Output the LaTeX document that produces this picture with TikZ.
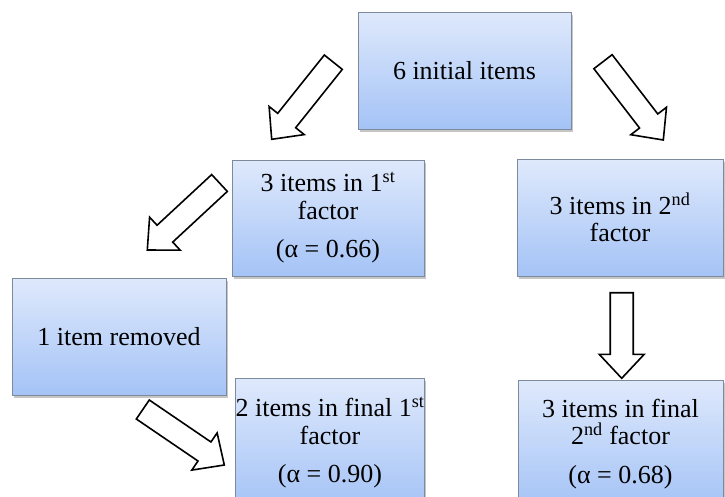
\documentclass[tikz,border=0pt]{standalone}
\usepackage{fontspec}
\setmainfont{LiberationSerif}[Extension=.ttf, UprightFont=*-Regular, BoldFont=*-Bold]
\usetikzlibrary{calc,shadows}

\definecolor{boxtop}{HTML}{DFE9FC}
\definecolor{boxbottom}{HTML}{A4C3F6}
\definecolor{boxedge}{HTML}{7D8A9C}

\tikzset{
  stage/.style={
    draw=boxedge, line width=0.9pt,
    top color=boxtop, bottom color=boxbottom,
    drop shadow={opacity=0.45, shadow xshift=2pt, shadow yshift=-3pt},
    align=center, inner sep=0pt,
    font=\fontsize{26}{27.5}\selectfont
  },
  barrow/.style={draw=black, fill=white, line width=1.6pt, line join=miter}
}

% hollow block arrow from coordinate #1 (tail) to coordinate #2 (tip)
\newcommand\BlockArr[2]{%
  \coordinate (#1h) at ($(#2)!24pt!(#1)$);
  \draw[barrow]
    ($(#1)!11.5pt!90:(#2)$) --
    ($(#1h)!11.5pt!90:(#2)$) --
    ($(#1h)!22.5pt!90:(#2)$) --
    (#2) --
    ($(#1h)!22.5pt!-90:(#2)$) --
    ($(#1h)!11.5pt!-90:(#2)$) --
    ($(#1)!11.5pt!-90:(#2)$) -- cycle;
}

\begin{document}
\begin{tikzpicture}[x=1pt,y=-1pt]
  \useasboundingbox (0,0) rectangle (725,496);

  % stages
  \node[stage, minimum width=213pt, minimum height=117pt] (init) at (464.5,70.5) {6 initial items};
  \node[stage, minimum width=192pt, minimum height=116pt] (f1) at (328,218)
    {3 items in 1\textsuperscript{st}\\factor\\[11pt](α = 0.66)};
  \node[stage, minimum width=206pt, minimum height=117pt] (f2) at (620,217.5)
    {3 items in 2\textsuperscript{nd}\\factor};
  \node[stage, minimum width=214pt, minimum height=117pt] (rem) at (119,336.5) {1 item removed};
  \node[stage, minimum width=186pt, minimum height=130pt] (fin1) at (330,443)
    {2 items in final 1\textsuperscript{st}\\factor\\[11pt](α = 0.90)};
  \node[stage, minimum width=205pt, minimum height=128pt] (fin2) at (620.5,444)
    {3 items in final\\2\textsuperscript{nd} factor\\[11pt](α = 0.68)};

  % arrow ends
  \coordinate (a1) at (333.3,62.2);  \coordinate (b1) at (271.7,139.3);
  \coordinate (a2) at (603,61.7);    \coordinate (b2) at (663.3,140);
  \coordinate (a3) at (219.5,183);   \coordinate (b3) at (147.3,250);
  \coordinate (a4) at (142.8,409.5); \coordinate (b4) at (224.3,465);
  \coordinate (a5) at (621.7,292.7); \coordinate (b5) at (621.7,378.3);

  \BlockArr{a1}{b1}
  \BlockArr{a2}{b2}
  \BlockArr{a3}{b3}
  \BlockArr{a4}{b4}
  \BlockArr{a5}{b5}
\end{tikzpicture}
\end{document}
